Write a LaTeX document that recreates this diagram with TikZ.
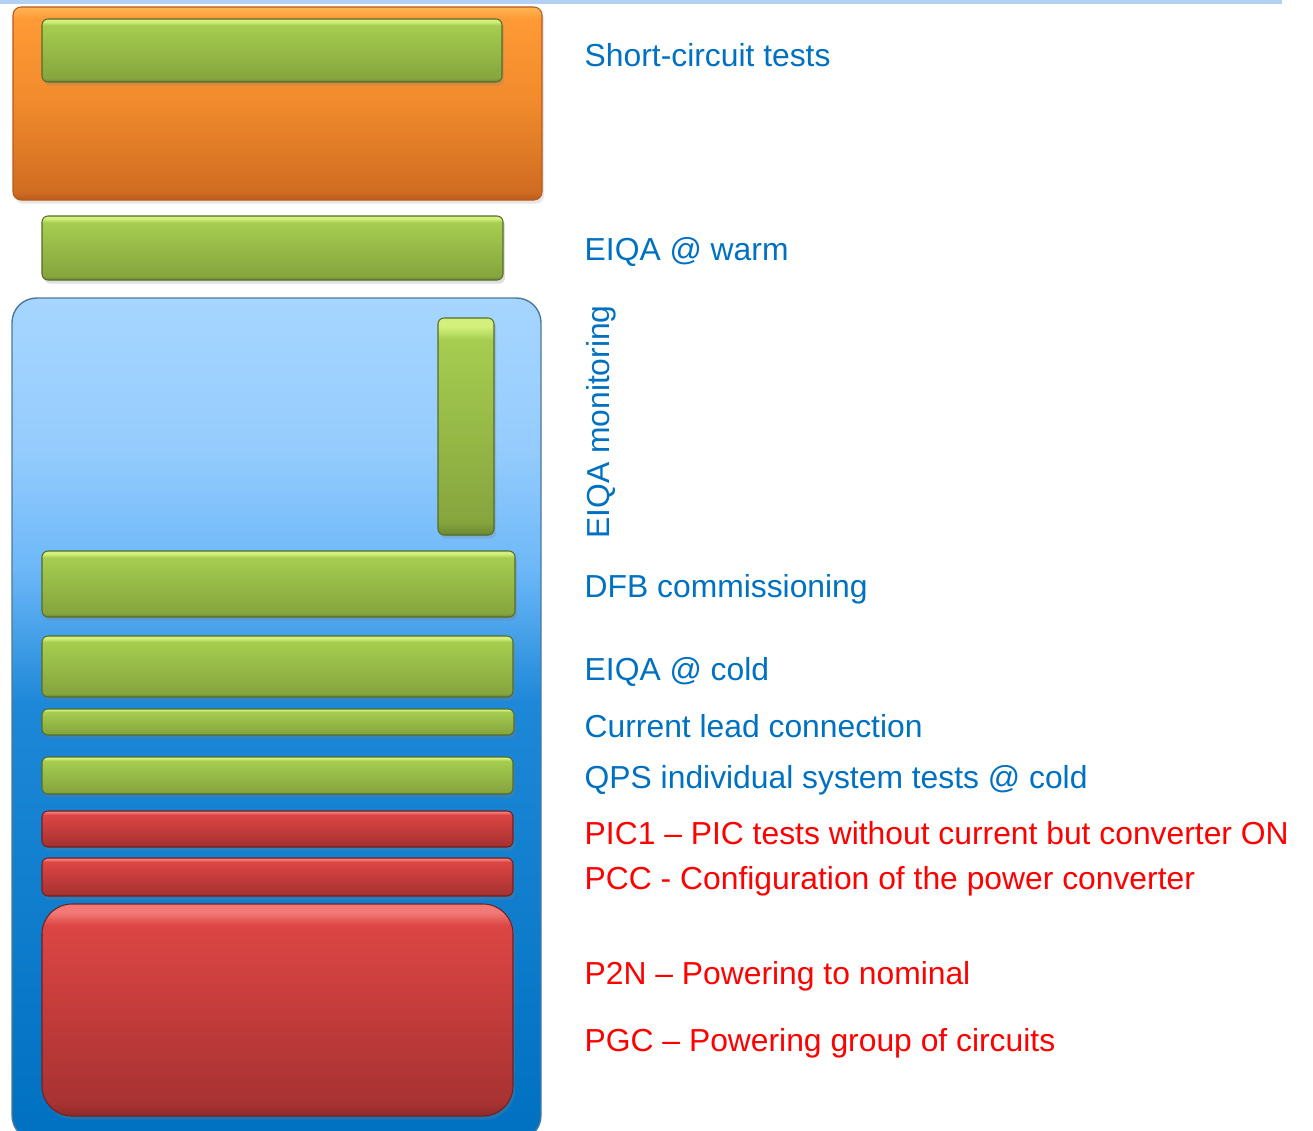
\documentclass[tikz,border=0pt]{standalone}
\usepackage{fontspec}
\setmainfont{Liberation Sans}
\usetikzlibrary{shadows}

\definecolor{labelblue}{HTML}{0070C0}
\definecolor{labelred}{HTML}{FF0000}
\definecolor{stripblue}{HTML}{B4D0F2}
\definecolor{gdark}{HTML}{6A8832}
\definecolor{gbot}{HTML}{86A53E}
\definecolor{gtop}{HTML}{A6CD50}
\definecolor{glight}{HTML}{D3F07C}
\definecolor{rdark}{HTML}{8C2A2A}
\definecolor{rbot}{HTML}{A83232}
\definecolor{rtop}{HTML}{DC4644}
\definecolor{rlight}{HTML}{F27A76}
\definecolor{odark}{HTML}{B85A1A}
\definecolor{obot}{HTML}{D06C22}
\definecolor{omid}{HTML}{F08A2C}
\definecolor{otop}{HTML}{FF9A36}
\definecolor{olight}{HTML}{FFB657}
\definecolor{bbot}{HTML}{0070C0}
\definecolor{bmid}{HTML}{1E88D8}
\definecolor{blow}{HTML}{6DB8F8}
\definecolor{bhigh}{HTML}{95CCFD}
\definecolor{btop}{HTML}{A6D6FF}

\pgfdeclareverticalshading{greenshade}{100bp}{color(0bp)=(gdark); color(25bp)=(gdark);
  color(28bp)=(gbot); color(70bp)=(gtop); color(73bp)=(glight); color(100bp)=(glight)}
\pgfdeclareverticalshading{redshade}{100bp}{color(0bp)=(rdark); color(25bp)=(rdark);
  color(28bp)=(rbot); color(70bp)=(rtop); color(73bp)=(rlight); color(100bp)=(rlight)}
\pgfdeclareverticalshading{orangeshade}{100bp}{color(0bp)=(odark); color(25bp)=(odark);
  color(27bp)=(obot); color(50bp)=(omid); color(72bp)=(otop); color(75bp)=(olight); color(100bp)=(olight)}
\pgfdeclareverticalshading{blueshade}{100bp}{color(0bp)=(bbot); color(25bp)=(bbot);
  color(51bp)=(bmid); color(59bp)=(blow); color(66bp)=(bhigh); color(75bp)=(btop); color(100bp)=(btop)}

\begin{document}
\begin{tikzpicture}[x=0.01cm, y=-0.01cm,
    bar/.style={rounded corners=1.7pt, drop shadow={shadow xshift=0.6pt, shadow yshift=-1pt, opacity=0.25}},
    greenbar/.style={bar, shading=greenshade, draw=gdark!80!black, line width=0.3pt},
    redbar/.style={bar, shading=redshade, draw=rdark!80!black, line width=0.3pt},
    label/.style={anchor=west, inner sep=0pt, font=\fontsize{9.05pt}{11pt}\selectfont},
    bluelabel/.style={label, text=labelblue},
    redlabel/.style={label, text=labelred}]
    \useasboundingbox (0,0) rectangle (1313,1130);
    % header strip
    \fill[stripblue] (0,0) rectangle (1282,4);
    % warm part
    \shade[shading=orangeshade, rounded corners=2.3pt, draw=odark, line width=0.3pt,
        drop shadow={shadow xshift=0.6pt, shadow yshift=-1pt, opacity=0.2}] (13,7) rectangle (542,200);
    \shade[greenbar] (42,19) rectangle (502,82);
    \shade[greenbar] (42,216) rectangle (503,280);
    % cold part
    \shade[shading=blueshade, rounded corners=7pt, draw=bbot!40!gray, line width=0.4pt] (12,298) rectangle (541,1140);
    \shade[greenbar] (438,318) rectangle (494,535);
    \shade[greenbar] (42,551) rectangle (515,617);
    \shade[greenbar] (42,636) rectangle (513,697);
    \shade[greenbar] (42,709) rectangle (514,735);
    \shade[greenbar] (42,757) rectangle (513,794);
    \shade[redbar] (42,811) rectangle (513,847);
    \shade[redbar] (42,858) rectangle (513,896);
    \shade[redbar, rounded corners=8.5pt] (42,904) rectangle (513,1116);
    % labels
    \node[bluelabel] (shortcircuit) at (584,55) {Short-circuit tests};
    \node[bluelabel] (eiqawarm) at (584,252) {EIQA @ warm};
    \node[label, text=labelblue, anchor=center, rotate=90] (eiqamon) at (601,422) {EIQA monitoring};
    \node[bluelabel] (dfb) at (584,589) {DFB commissioning};
    \node[bluelabel] (eiqacold) at (584,672) {EIQA @ cold};
    \node[bluelabel] (lead) at (584,726) {Current lead connection};
    \node[bluelabel] (qps) at (584,780) {QPS individual system tests @ cold};
    \node[redlabel] (picone) at (584,833) {PIC1 – PIC tests without current but converter ON};
    \node[redlabel] (pcc) at (584,881) {PCC - Configuration of the power converter};
    \node[redlabel] (ptwon) at (584,976) {P2N – Powering to nominal};
    \node[redlabel] (pgc) at (584,1043) {PGC – Powering group of circuits};
\end{tikzpicture}
\end{document}
